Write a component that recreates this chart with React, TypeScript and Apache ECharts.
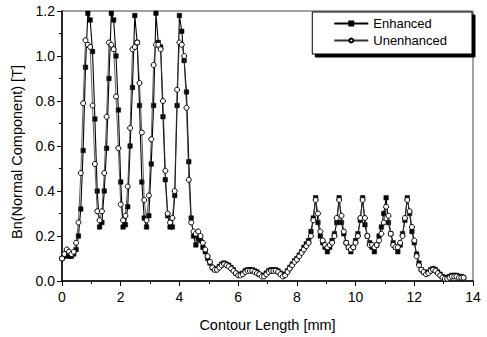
import React, { useEffect, useRef } from "react";
import * as echarts from "echarts";

const contourLength = [
  0, 0.08, 0.16, 0.24, 0.32, 0.4, 0.48, 0.56, 0.64, 0.72,
  0.8, 0.88, 0.96, 1.04, 1.12, 1.2, 1.28, 1.36, 1.44, 1.52,
  1.6, 1.68, 1.76, 1.84, 1.92, 2, 2.08, 2.16, 2.24, 2.32,
  2.4, 2.48, 2.56, 2.64, 2.72, 2.8, 2.88, 2.96, 3.04, 3.12,
  3.2, 3.28, 3.36, 3.44, 3.52, 3.6, 3.68, 3.76, 3.84, 3.92,
  4, 4.08, 4.16, 4.24, 4.32, 4.4, 4.48, 4.56, 4.64, 4.72,
  4.8, 4.88, 4.96, 5.04, 5.12, 5.2, 5.28, 5.36, 5.44, 5.52,
  5.6, 5.68, 5.76, 5.84, 5.92, 6, 6.08, 6.16, 6.24, 6.32,
  6.4, 6.48, 6.56, 6.64, 6.72, 6.8, 6.88, 6.96, 7.04, 7.12,
  7.2, 7.28, 7.36, 7.44, 7.52, 7.6, 7.68, 7.76, 7.84, 7.92,
  8, 8.08, 8.16, 8.24, 8.32, 8.4, 8.48, 8.56, 8.64, 8.72,
  8.8, 8.88, 8.96, 9.04, 9.12, 9.2, 9.28, 9.36, 9.44, 9.52,
  9.6, 9.68, 9.76, 9.84, 9.92, 10, 10.08, 10.16, 10.24, 10.32,
  10.4, 10.48, 10.56, 10.64, 10.72, 10.8, 10.88, 10.96, 11.04, 11.12,
  11.2, 11.28, 11.36, 11.44, 11.52, 11.6, 11.68, 11.76, 11.84, 11.92,
  12, 12.08, 12.16, 12.24, 12.32, 12.4, 12.48, 12.56, 12.64, 12.72,
  12.8, 12.88, 12.96, 13.04, 13.12, 13.2, 13.28, 13.36, 13.44, 13.52,
  13.6, 13.68,
];

const enhanced = [
  0.10, 0.11, 0.13, 0.11, 0.11, 0.12, 0.14, 0.20, 0.32, 0.58,
  0.95, 1.19, 1.16, 1.02, 0.72, 0.40, 0.24, 0.26, 0.40, 0.59,
  0.90, 1.19, 1.16, 1.00, 0.76, 0.44, 0.24, 0.25, 0.33, 0.60,
  0.86, 1.18, 1.06, 0.78, 0.44, 0.28, 0.24, 0.29, 0.52, 0.78,
  1.19, 1.06, 1.04, 0.73, 0.45, 0.29, 0.24, 0.24, 0.38, 0.78,
  1.18, 1.11, 0.98, 0.84, 0.53, 0.28, 0.20, 0.16, 0.19, 0.18,
  0.15, 0.13, 0.10, 0.08, 0.06, 0.05, 0.055, 0.065, 0.075, 0.08,
  0.075, 0.07, 0.06, 0.05, 0.035, 0.03, 0.03, 0.035, 0.045, 0.05,
  0.05, 0.05, 0.045, 0.04, 0.03, 0.025, 0.025, 0.035, 0.045, 0.05,
  0.05, 0.05, 0.045, 0.035, 0.025, 0.03, 0.045, 0.06, 0.075, 0.09,
  0.10, 0.115, 0.13, 0.15, 0.165, 0.18, 0.22, 0.28, 0.37, 0.26,
  0.20, 0.17, 0.15, 0.13, 0.15, 0.18, 0.21, 0.26, 0.37, 0.26,
  0.21, 0.17, 0.15, 0.13, 0.15, 0.18, 0.21, 0.27, 0.37, 0.25,
  0.20, 0.17, 0.15, 0.13, 0.16, 0.20, 0.24, 0.30, 0.37, 0.26,
  0.21, 0.17, 0.15, 0.13, 0.16, 0.21, 0.27, 0.37, 0.30, 0.22,
  0.17, 0.12, 0.08, 0.05, 0.04, 0.035, 0.04, 0.05, 0.055, 0.05,
  0.04, 0.03, 0.02, 0.015, 0.015, 0.02, 0.025, 0.025, 0.025, 0.02,
  0.02, 0.015,
];

const unenhanced = [
  0.10, 0.12, 0.14, 0.13, 0.12, 0.13, 0.17, 0.26, 0.48, 0.79,
  1.07, 1.05, 1.04, 0.78, 0.52, 0.31, 0.27, 0.31, 0.48, 0.73,
  1.06, 1.05, 1.03, 0.82, 0.59, 0.34, 0.27, 0.29, 0.42, 0.68,
  1.03, 1.04, 1.06, 0.88, 0.66, 0.36, 0.27, 0.38, 0.63, 0.96,
  1.05, 1.05, 1.03, 0.80, 0.49, 0.30, 0.26, 0.28, 0.40, 0.85,
  1.06, 1.05, 1.00, 0.77, 0.45, 0.26, 0.22, 0.21, 0.22, 0.20,
  0.17, 0.14, 0.11, 0.085, 0.06, 0.05, 0.05, 0.06, 0.07, 0.075,
  0.07, 0.065, 0.055, 0.045, 0.035, 0.025, 0.025, 0.03, 0.04, 0.045,
  0.045, 0.045, 0.04, 0.035, 0.03, 0.02, 0.02, 0.03, 0.04, 0.045,
  0.045, 0.045, 0.04, 0.03, 0.02, 0.025, 0.04, 0.055, 0.07, 0.085,
  0.095, 0.11, 0.125, 0.14, 0.155, 0.17, 0.20, 0.27, 0.36, 0.30,
  0.22, 0.18, 0.16, 0.15, 0.16, 0.17, 0.20, 0.28, 0.36, 0.29,
  0.22, 0.17, 0.15, 0.14, 0.15, 0.17, 0.20, 0.28, 0.36, 0.28,
  0.20, 0.16, 0.16, 0.15, 0.16, 0.18, 0.21, 0.26, 0.33, 0.29,
  0.21, 0.16, 0.15, 0.15, 0.17, 0.20, 0.28, 0.36, 0.31, 0.24,
  0.18, 0.11, 0.07, 0.05, 0.04, 0.03, 0.035, 0.045, 0.05, 0.045,
  0.035, 0.025, 0.015, 0.01, 0.01, 0.015, 0.02, 0.02, 0.02, 0.015,
  0.015, 0.015,
];

const seriesNames = ["Enhanced", "Unenhanced"];
const xAxisTitle = "Contour Length [mm]";
const yAxisTitle = "Bn(Normal Component) [T]";

const FONT = "'Liberation Sans', Arial, Helvetica, sans-serif";

export default function App() {
  const ref = useRef<HTMLDivElement>(null);

  useEffect(() => {
    if (!ref.current) return;
    const chart = echarts.init(ref.current, undefined, { renderer: "svg" });
    const pairs = (ys: number[]) => contourLength.map((x, i) => [x, ys[i]]);

    chart.setOption({
      animation: false,
      backgroundColor: "#fff",
      textStyle: { fontFamily: FONT, color: "#000" },
      grid: {
        left: 62,
        right: 14,
        top: 11,
        bottom: 56,
        show: true,
        borderColor: "#444",
        borderWidth: 1,
        backgroundColor: "transparent",
      },
      legend: {
        orient: "vertical",
        right: 15,
        top: 12,
        itemGap: 4,
        itemWidth: 34,
        itemHeight: 5,
        padding: [5, 25, 7, 21],
        borderColor: "#000",
        borderWidth: 1,
        backgroundColor: "#fff",
        shadowColor: "#000",
        shadowBlur: 0,
        shadowOffsetX: 3,
        shadowOffsetY: 3,
        textStyle: { fontSize: 13, color: "#000", fontFamily: FONT },
        data: seriesNames,
      },
      xAxis: {
        type: "value",
        min: 0,
        max: 14,
        interval: 2,
        name: xAxisTitle,
        nameLocation: "middle",
        nameGap: 36,
        nameTextStyle: { fontSize: 14.5, color: "#000", fontFamily: FONT },
        axisLine: { lineStyle: { color: "#000", width: 1.5 } },
        axisTick: { show: true, length: 5, lineStyle: { color: "#000", width: 1 } },
        minorTick: { show: true, splitNumber: 2, length: 3, lineStyle: { color: "#000" } },
        axisLabel: { fontSize: 14, color: "#000", margin: 9, fontFamily: FONT },
        splitLine: { show: false },
      },
      yAxis: {
        type: "value",
        min: 0,
        max: 1.2,
        interval: 0.2,
        name: yAxisTitle,
        nameLocation: "middle",
        nameGap: 35,
        nameTextStyle: {
          fontSize: 14.5,
          color: "#000",
          fontFamily: FONT,
          padding: [0, 12, 0, 0],
        },
        axisLine: { show: true, lineStyle: { color: "#000", width: 1.5 } },
        axisTick: { show: true, length: 5, lineStyle: { color: "#000", width: 1 } },
        minorTick: { show: true, splitNumber: 2, length: 3, lineStyle: { color: "#000" } },
        axisLabel: {
          fontSize: 14,
          color: "#000",
          margin: 7,
          fontFamily: FONT,
          formatter: (v: number) => v.toFixed(1),
        },
        splitLine: { show: false },
      },
      series: [
        {
          name: seriesNames[0],
          type: "line",
          data: pairs(enhanced),
          symbol: "rect",
          symbolSize: 4.5,
          showAllSymbol: true,
          lineStyle: { color: "#000", width: 1.1 },
          itemStyle: { color: "#000", borderColor: "#000", borderWidth: 0.5 },
          z: 2,
        },
        {
          name: seriesNames[1],
          type: "line",
          data: pairs(unenhanced),
          symbol: "circle",
          symbolSize: 5,
          showAllSymbol: true,
          lineStyle: { color: "#333", width: 0.8 },
          itemStyle: { color: "#fff", borderColor: "#000", borderWidth: 1 },
          z: 3,
        },
      ],
    });

    return () => chart.dispose();
  }, []);

  return (
    <div
      ref={ref}
      style={{ position: "fixed", left: 0, top: 0, width: 487, height: 337, background: "#fff" }}
    />
  );
}
